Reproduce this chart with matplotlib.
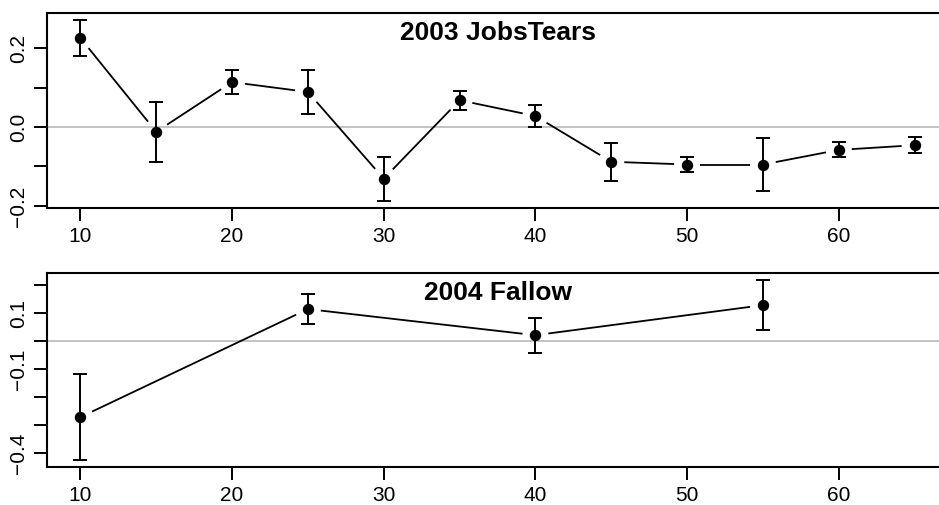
import numpy as np
import matplotlib
matplotlib.use("Agg")
import matplotlib.pyplot as plt

plt.rcParams['font.family'] = ['Liberation Sans', 'DejaVu Sans']

# ---- data ----
x_2003 = [10, 15, 20, 25, 30, 35, 40, 45, 50, 55, 60, 65]
y_2003 = [0.226, -0.012, 0.114, 0.089, -0.131, 0.068, 0.028, -0.088, -0.095, -0.095, -0.058, -0.046]
err_2003 = [0.045, 0.076, 0.030, 0.056, 0.056, 0.024, 0.029, 0.048, 0.020, 0.068, 0.019, 0.020]

x_2004 = [10, 25, 40, 55]
y_2004 = [-0.271, 0.114, 0.021, 0.128]
err_2004 = [0.153, 0.053, 0.062, 0.090]

title_2003 = "2003 JobsTears"
title_2004 = "2004 Fallow"

xticks = [10, 20, 30, 40, 50, 60]
yticks_2003 = [-0.2, -0.1, 0.0, 0.1, 0.2]
ylabels_2003 = ["\u22120.2", "", "0.0", "", "0.2"]
yticks_2004 = [-0.4, -0.3, -0.2, -0.1, 0.0, 0.1, 0.2]
ylabels_2004 = ["\u22120.4", "", "", "\u22120.1", "", "0.1", ""]

W, H, DPI = 939, 505, 100
fig = plt.figure(figsize=(W / DPI, H / DPI), dpi=DPI)

def px_axes(left, top, right, bottom):
    return fig.add_axes([left / W, 1 - bottom / H, (right - left) / W, (bottom - top) / H])

ax1 = px_axes(47, 13, 948, 208)
ax2 = px_axes(47, 272.7, 948, 467.3)

# common x range (R default 4% extension of the full x range)
xall = np.asarray(x_2003, float)
xr = xall.max() - xall.min()
XLIM = (xall.min() - 0.04 * xr, xall.max() + 0.04 * xr)

def panel(ax, xs, ys, es, title, yt, yl):
    xs = np.asarray(xs, float); ys = np.asarray(ys, float); es = np.asarray(es, float)
    lo = ys - es; hi = ys + es
    yr = hi.max() - lo.min()
    ax.set_xlim(*XLIM)
    ax.set_ylim(lo.min() - 0.04 * yr, hi.max() + 0.04 * yr)
    ax.axhline(0, color='#bebebe', lw=1.3, zorder=1)
    # lines with gaps (type="b")
    gap = 13.0
    pts = ax.transData.transform(np.column_stack([xs, ys]))
    inv = ax.transData.inverted()
    for i in range(len(xs) - 1):
        p0, p1 = pts[i], pts[i + 1]
        d = p1 - p0
        L = np.hypot(*d)
        if L <= 2 * gap:
            continue
        u = d / L
        a = inv.transform(p0 + u * gap)
        b = inv.transform(p1 - u * gap)
        ax.plot([a[0], b[0]], [a[1], b[1]], color='black', lw=1.3, zorder=2,
                solid_capstyle='butt')
    ax.errorbar(xs, ys, yerr=es, fmt='o', color='black', ms=7.2, elinewidth=1.4,
                capsize=5, capthick=1.4, zorder=3)
    ax.text(0.5, 0.862, title, transform=ax.transAxes, ha='center', va='baseline',
            fontsize=19, fontweight='bold')
    ax.set_xticks(xticks)
    ax.set_xticklabels([str(v) for v in xticks])
    ax.set_yticks(yt)
    ax.set_yticklabels(yl, rotation=90, va='center')
    ax.tick_params(axis='both', length=9.5, width=1.4, labelsize=15, direction='out')
    ax.tick_params(axis='y', pad=4)
    ax.tick_params(axis='x', pad=4)
    for s in ax.spines.values():
        s.set_linewidth(1.5)

panel(ax1, x_2003, y_2003, err_2003, title_2003, yticks_2003, ylabels_2003)
panel(ax2, x_2004, y_2004, err_2004, title_2004, yticks_2004, ylabels_2004)

fig.savefig("out.png", dpi=DPI)
